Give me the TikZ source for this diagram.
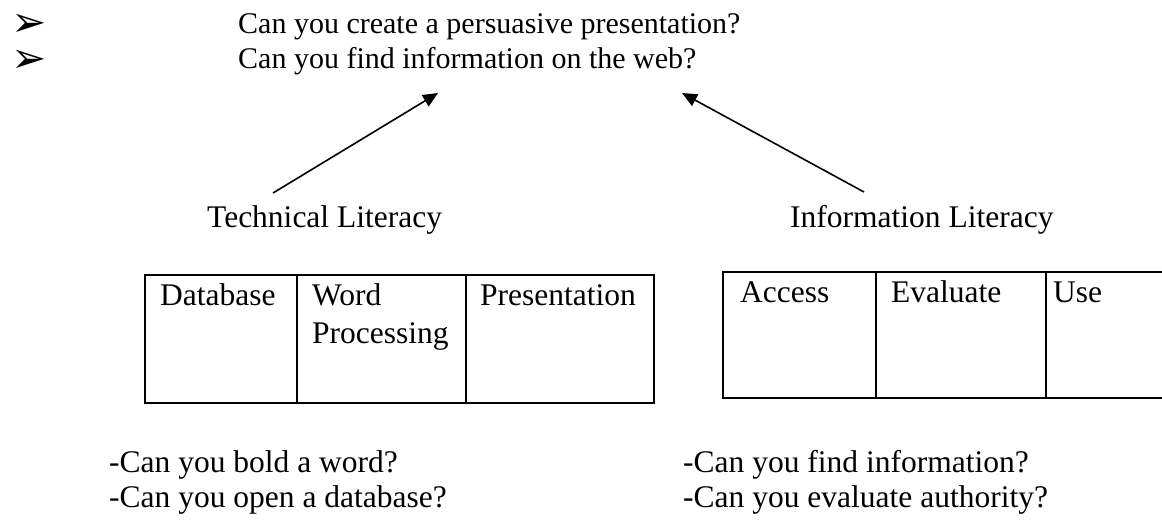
\documentclass[tikz,border=0pt]{standalone}
\usepackage{fontspec}
\setmainfont{Liberation Serif}
\newfontfamily\symfont{DejaVu Sans}
\usetikzlibrary{arrows.meta}
\begin{document}
\begin{tikzpicture}[x=1pt,y=-1pt,
  toptxt/.style={anchor=base west, inner sep=0pt, font=\fontsize{30}{34}\selectfont},
  body/.style={anchor=base west, inner sep=0pt, font=\fontsize{31.5}{38}\selectfont},
  bul/.style={anchor=base west, inner sep=0pt, text height=26pt, text depth=0pt, font=\symfont\fontsize{42}{46}\selectfont},
  grid/.style={line width=2pt},
  conn/.style={line width=1.6pt, -{Triangle[length=15pt,width=13pt]}}]
\useasboundingbox (0,0) rectangle (1162,520);
% bullets and top questions
\node[bul] (b1) at (11,36.5) {➢};
\node[bul] (b2) at (11,72.5) {➢};
\node[toptxt] (q1) at (238,33) {Can you create a persuasive presentation?};
\node[toptxt] (q2) at (238,68) {Can you find information on the web?};
% labels
\node[body] (tech) at (207,227) {Technical Literacy};
\node[body] (info) at (790,227) {Information Literacy};
% connectors
\coordinate (tailL) at (273,193);
\coordinate (tipL) at (438,93);
\coordinate (tailR) at (864,192);
\coordinate (tipR) at (682,93);
\draw[conn] (tailL) -- (tipL);
\draw[conn] (tailR) -- (tipR);
% left table
\draw[grid] (145,275) rectangle (654,403);
\draw[grid] (297,275) -- (297,403);
\draw[grid] (466,275) -- (466,403);
\node[body] (db) at (160,305) {Database};
\node[body] (wp1) at (312,305) {Word};
\node[body] (wp2) at (312,343) {Processing};
\node[body] (pr) at (480,305) {Presentation};
% right table
\draw[grid] (1162,272) -- (723,272) -- (723,398) -- (1162,398);
\draw[grid] (876,272) -- (876,398);
\draw[grid] (1046,272) -- (1046,398);
\node[body] (ac) at (740,302) {Access};
\node[body] (ev) at (891,302) {Evaluate};
\node[body] (us) at (1053,302) {Use};
% bottom questions
\node[body] (l1) at (109,472) {-Can you bold a word?};
\node[body] (l2) at (109,507) {-Can you open a database?};
\node[body] (r1) at (683,472) {-Can you find information?};
\node[body] (r2) at (683,507) {-Can you evaluate authority?};
\end{tikzpicture}
\end{document}
